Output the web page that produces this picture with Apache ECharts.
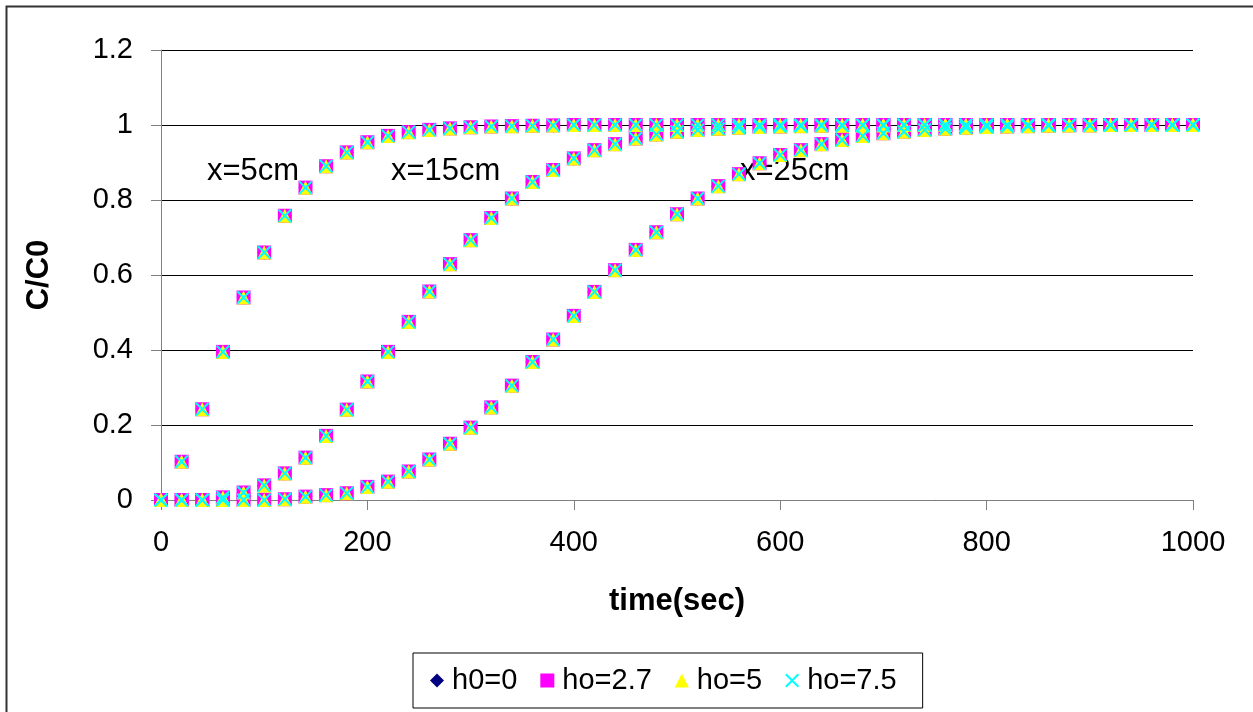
<!DOCTYPE html>
<html>
<head>
<meta charset="utf-8">
<script src="https://cdn.jsdelivr.net/npm/echarts@6/dist/echarts.min.js"></script>
<style>
  html, body { margin: 0; padding: 0; background: #fff; }
  #chart { width: 1253px; height: 712px; }
</style>
</head>
<body>
<div id="chart"></div>
<script>
  // time (sec)
  var times = [0,20,40,60,80,100,120,140,160,180,200,220,240,260,280,300,320,340,360,380,
    400,420,440,460,480,500,520,540,560,580,600,620,640,660,680,700,720,740,760,780,
    800,820,840,860,880,900,920,940,960,980,1000];

  // C/C0 at x=5cm
  var x5cm = [0,0.102,0.242,0.395,0.54,0.66,0.758,0.833,0.89,0.927,0.954,0.971,0.981,0.987,0.991,
    0.994,0.996,0.997,0.998,0.999,1,1,1,1,1,1,1,1,1,1,1,1,1,1,1,1,1,1,1,1,
    1,1,1,1,1,1,1,1,1,1,1];
  // C/C0 at x=15cm
  var x15cm = [0,0,0,0.007,0.02,0.039,0.071,0.113,0.171,0.241,0.316,0.395,0.475,0.556,0.629,
    0.693,0.752,0.804,0.848,0.88,0.911,0.933,0.949,0.964,0.975,0.982,0.987,0.99,0.993,0.995,
    0.996,0.997,0.998,0.998,0.999,0.999,1,1,1,1,1,1,1,1,1,1,1,1,1,1,1];
  // C/C0 at x=25cm
  var x25cm = [0,0,0,0,0,0,0.002,0.009,0.013,0.018,0.035,0.049,0.076,0.108,0.15,
    0.193,0.247,0.305,0.368,0.428,0.491,0.555,0.613,0.667,0.714,0.762,0.804,0.837,0.869,0.898,
    0.92,0.933,0.949,0.96,0.971,0.978,0.982,0.987,0.99,0.993,0.995,0.996,0.997,0.998,0.999,0.999,
    1,1,1,1,1];

  var seriesNames = ['h0=0','ho=2.7','ho=5','ho=7.5'];

  var font = 'Arial, "Liberation Sans", sans-serif';
  var crossPath = 'path://M0,1 L1,0 L5,4 L9,0 L10,1 L6,5 L10,9 L9,10 L5,6 L1,10 L0,9 L4,5 Z';
  var markers = [
    {symbol: 'diamond', color: '#000080', size: 14},
    {symbol: 'rect', color: '#ff00ff', size: 14},
    {symbol: 'triangle', color: '#ffff00', size: 14},
    {symbol: crossPath, color: '#00ffff', size: 14}
  ];

  function pairs(vals) {
    var out = [];
    for (var i = 0; i < times.length; i++) {
      out.push([times[i], vals[i]]);
    }
    return out;
  }

  var curves = [x5cm, x15cm, x25cm];
  var series = [];
  for (var s = 0; s < seriesNames.length; s++) {
    for (var c = 0; c < curves.length; c++) {
      series.push({
        name: seriesNames[s],
        type: 'scatter',
        symbol: markers[s].symbol,
        symbolSize: markers[s].size,
        itemStyle: {color: markers[s].color, opacity: 1},
        z: 2 + s,
        animation: false,
        data: pairs(curves[c])
      });
    }
  }

  var myChart = echarts.init(document.getElementById('chart'));
  var option = {
    backgroundColor: '#fff',
    animation: false,
    grid: {left: 161, right: 60, top: 50, bottom: 212},
    legend: {
      data: seriesNames,
      left: 413,
      top: 653,
      padding: [13, 26, 13, 17],
      itemGap: 23,
      itemWidth: 14,
      itemHeight: 14,
      borderColor: '#000',
      borderWidth: 1,
      textStyle: {fontFamily: font, fontSize: 29, color: '#000', padding: [0, 0, 0, 3]}
    },
    xAxis: {
      type: 'value',
      min: 0,
      max: 1000,
      interval: 200,
      name: 'time(sec)',
      nameLocation: 'middle',
      nameGap: 86,
      nameTextStyle: {fontFamily: font, fontSize: 31, fontWeight: 'bold', color: '#000'},
      axisLine: {lineStyle: {color: '#808080', width: 1}},
      axisTick: {show: true, inside: false, length: 10, lineStyle: {color: '#808080'}},
      axisLabel: {margin: 28, fontFamily: font, fontSize: 29, color: '#000',
        formatter: function (v) { return String(v); }},
      splitLine: {show: false}
    },
    yAxis: {
      type: 'value',
      min: 0,
      max: 1.2,
      interval: 0.2,
      name: 'C/C0',
      nameLocation: 'middle',
      nameGap: 106,
      nameTextStyle: {fontFamily: font, fontSize: 31, fontWeight: 'bold', color: '#000'},
      axisLine: {show: true, lineStyle: {color: '#808080', width: 1}},
      axisTick: {show: true, inside: false, length: 10, lineStyle: {color: '#808080'}},
      axisLabel: {margin: 28, fontFamily: font, fontSize: 29, color: '#000',
        formatter: function (v) { return String(+v.toFixed(1)); }},
      splitLine: {show: true, lineStyle: {color: '#000', width: 1}}
    },
    graphic: [
      {type: 'rect', left: 4, top: 4, z: -1, silent: true,
        shape: {width: 1400, height: 900},
        style: {fill: 'none', stroke: '#333', lineWidth: 2}},
      {type: 'text', left: 207, top: 156, z: 1,
        style: {text: 'x=5cm', font: '31px ' + font, fill: '#000'}},
      {type: 'text', left: 391, top: 156, z: 1,
        style: {text: 'x=15cm', font: '31px ' + font, fill: '#000'}},
      {type: 'text', left: 740, top: 156, z: 1,
        style: {text: 'x=25cm', font: '31px ' + font, fill: '#000'}}
    ],
    series: series
  };
  myChart.setOption(option);
  window.onresize = myChart.resize;
</script>
</body>
</html>
